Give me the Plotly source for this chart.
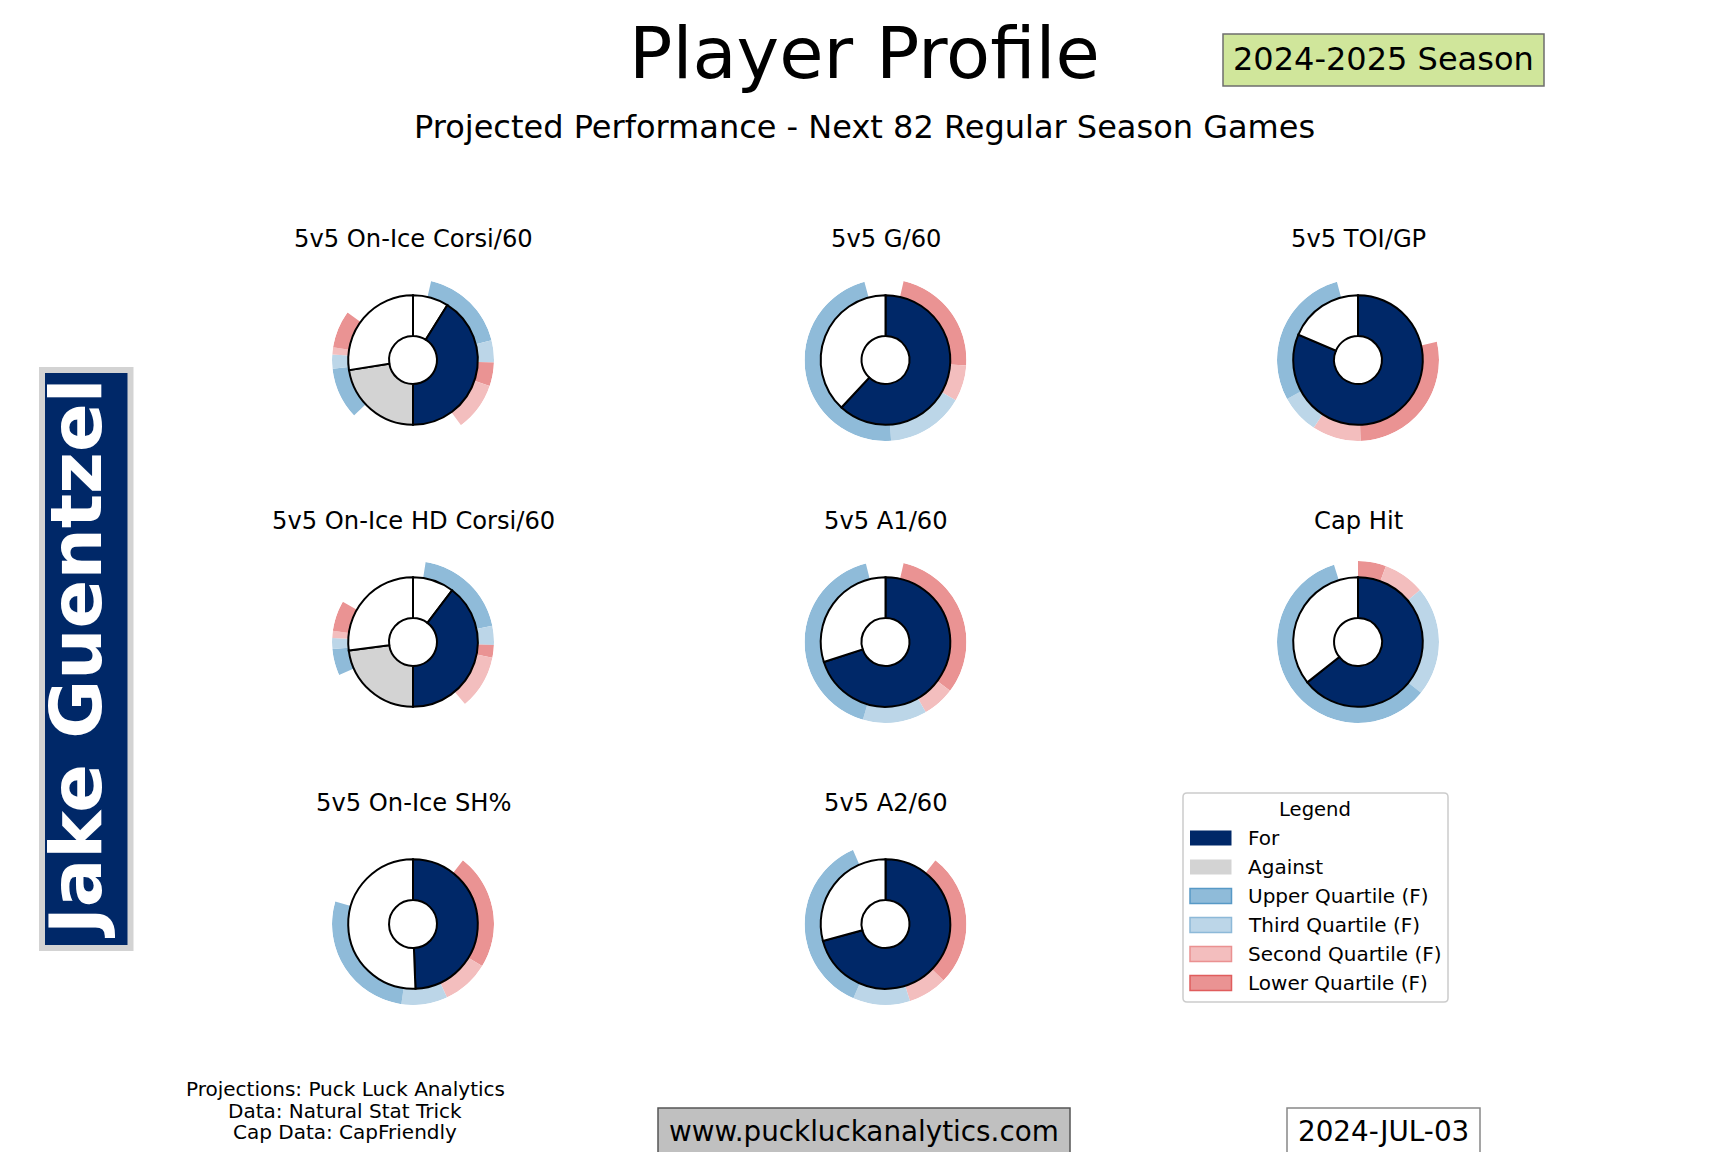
import plotly.graph_objects as go

W, H = 1728, 1152
FONT = "DejaVu Sans"

NAVY = "#002868"
colors = {
    "For": NAVY,
    "Against": "#d3d3d3",
    "Blank": "white",
    "Upper": "#8fbbd9",
    "Third": "#bcd6e8",
    "Second": "#f3bebe",
    "Lower": "#ea9393",
}

# ---- data (shares of the full circle, in %) ----
# charts with For/Against halves
split_inner_keys = ["Blank", "For", "Against", "Blank"]
split_outer_keys = ["Gap", "Upper", "Third", "Lower", "Second", "Gap",
                    "Upper", "Third", "Second", "Lower", "Gap"]
# single value charts
single_inner_keys = ["For", "Blank"]
single_outer_keys = ["Gap", "Lower", "Second", "Third", "Upper", "Gap"]

corsi_inner = [8.9, 41.1, 22.5, 27.5]
corsi_outer = [3.6, 17.5, 4.4, 4.7, 9.7, 23.1, 10.3, 2.8, 1.4, 7.5, 15.0]

hd_corsi_inner = [10.3, 39.7, 22.9, 27.1]
hd_corsi_outer = [2.5, 19.3, 3.8, 2.5, 10.8, 29.4, 5.3, 2.2, 1.4, 6.1, 16.7]

g60_inner = [61.9, 38.1]
g60_outer = [3.6, 22.5, 7.2, 15.6, 46.9, 4.2]

toi_inner = [81.4, 18.6]
toi_outer = [21.4, 28.1, 9.7, 7.8, 28.8, 4.2]

a1_inner = [70.0, 30.0]
a1_outer = [3.6, 31.7, 6.4, 12.8, 41.6, 3.9]

cap_inner = [64.3, 35.7]
cap_outer = [0.0, 5.6, 8.3, 21.9, 59.4, 4.8]

sh_inner = [49.4, 50.6]
sh_outer = [10.6, 23.1, 9.4, 9.2, 27.2, 20.5]

a2_inner = [70.8, 29.2]
a2_outer = [10.6, 26.7, 7.8, 11.4, 36.9, 6.6]

charts = [
    ("5v5 On-Ice Corsi/60", corsi_inner, split_inner_keys, corsi_outer, split_outer_keys),
    ("5v5 G/60", g60_inner, single_inner_keys, g60_outer, single_outer_keys),
    ("5v5 TOI/GP", toi_inner, single_inner_keys, toi_outer, single_outer_keys),
    ("5v5 On-Ice HD Corsi/60", hd_corsi_inner, split_inner_keys, hd_corsi_outer, split_outer_keys),
    ("5v5 A1/60", a1_inner, single_inner_keys, a1_outer, single_outer_keys),
    ("Cap Hit", cap_inner, single_inner_keys, cap_outer, single_outer_keys),
    ("5v5 On-Ice SH%", sh_inner, single_inner_keys, sh_outer, single_outer_keys),
    ("5v5 A2/60", a2_inner, single_inner_keys, a2_outer, single_outer_keys),
]

legend_labels = ["For", "Against", "Upper Quartile (F)", "Third Quartile (F)",
                 "Second Quartile (F)", "Lower Quartile (F)"]
legend_keys = ["For", "Against", "Upper", "Third", "Second", "Lower"]
legend_edges = [None, None, "#5799c6", "#8db9d8", "#ea9191", "#e05d5d"]

player = "Jake Guentzel"
season = "2024-2025 Season"
date_txt = "2024-JUL-03"
credits = ["Projections: Puck Luck Analytics", "Data: Natural Stat Trick", "Cap Data: CapFriendly"]

# ---- layout helpers (pixel -> paper) ----
def px(x):
    return x / W


def py(y):
    return 1 - y / H


col_x = [413, 885.5, 1358]
row_y = [360, 642, 924]
R_PX = 81  # outer ring radius in pixels


def ring(values, keys, base, thick, line_w, sub):
    theta, width, cols = [], [], []
    start = 0.0
    for v, k in zip(values, keys):
        span = v * 3.6
        if k != "Gap" and span > 0:
            theta.append(start + span / 2)
            width.append(span)
            cols.append(colors[k])
        start += span
    return go.Barpolar(
        r=[thick] * len(theta), base=[base] * len(theta),
        theta=theta, width=width, subplot=sub,
        marker=dict(color=cols, line=dict(color="black", width=line_w)),
        hoverinfo="skip", showlegend=False,
    )


fig = go.Figure()
annotations = []
shapes = []
polar_layout = {}

for i, (title, inner, ikeys, outer, okeys) in enumerate(charts):
    cx, cy = col_x[i % 3], row_y[i // 3]
    sub = "polar" if i == 0 else f"polar{i + 1}"
    fig.add_trace(ring(outer, okeys, 1.0, 0.25, 0, sub))
    fig.add_trace(ring(inner, ikeys, 0.37, 0.63, 2, sub))
    polar_layout[sub] = dict(
        domain=dict(x=[px(cx - R_PX), px(cx + R_PX)], y=[py(cy + R_PX), py(cy - R_PX)]),
        bgcolor="rgba(0,0,0,0)",
        radialaxis=dict(visible=False, range=[0, 1.25]),
        angularaxis=dict(visible=False, rotation=90, direction="clockwise"),
        bargap=0,
    )
    annotations.append(dict(x=px(cx), y=py(cy - 121), text=title, showarrow=False,
                            xanchor="center", yanchor="middle",
                            font=dict(size=24.2, color="black")))

# header
annotations.append(dict(x=px(864.5), y=py(53.5), text="Player Profile", showarrow=False,
                        xanchor="center", yanchor="middle", font=dict(size=72, color="black")))
annotations.append(dict(x=px(864.5), y=py(127), text="Projected Performance - Next 82 Regular Season Games",
                        showarrow=False, xanchor="center", yanchor="middle",
                        font=dict(size=32, color="black")))
shapes.append(dict(type="rect", xref="paper", yref="paper", x0=px(1223), x1=px(1544),
                   y0=py(86), y1=py(34), fillcolor="#d0e69b", line=dict(color="#6e6e6e", width=1.5),
                   layer="below"))
annotations.append(dict(x=px(1383.5), y=py(59), text=season, showarrow=False,
                        xanchor="center", yanchor="middle", font=dict(size=32, color="black")))

# player name box
shapes.append(dict(type="rect", xref="paper", yref="paper", x0=px(42), x1=px(130.5),
                   y0=py(948), y1=py(370), fillcolor=NAVY, line=dict(color="#d3d3d3", width=6),
                   layer="below"))
annotations.append(dict(x=px(76), y=py(659), text=f"<b>{player}</b>", showarrow=False,
                        textangle=-90, xanchor="center", yanchor="middle",
                        font=dict(size=72, color="white")))

# legend (drawn by hand)
lx0, lx1, ly0, ly1, rad = 1183, 1448, 793, 1002, 4


def rounded(x0, y0, x1, y1, r):
    rx, ry = r / W, r / H
    a0, a1, b0, b1 = px(x0), px(x1), py(y1), py(y0)
    return (f"M {a0 + rx},{b0} L {a1 - rx},{b0} Q {a1},{b0} {a1},{b0 + ry} "
            f"L {a1},{b1 - ry} Q {a1},{b1} {a1 - rx},{b1} L {a0 + rx},{b1} "
            f"Q {a0},{b1} {a0},{b1 - ry} L {a0},{b0 + ry} Q {a0},{b0} {a0 + rx},{b0} Z")


shapes.append(dict(type="path", xref="paper", yref="paper", path=rounded(lx0, ly0, lx1, ly1, rad),
                   fillcolor="white", line=dict(color="#cccccc", width=1.5), layer="below"))
annotations.append(dict(x=px(1315), y=py(809), text="Legend", showarrow=False,
                        xanchor="center", yanchor="middle", font=dict(size=19.6, color="black")))
for j, (lab, key, edge) in enumerate(zip(legend_labels, legend_keys, legend_edges)):
    yc = 838 + j * 29
    shapes.append(dict(type="rect", xref="paper", yref="paper", x0=px(1190), x1=px(1231.5),
                       y0=py(yc + 7.5), y1=py(yc - 7.5), fillcolor=colors[key],
                       line=dict(color=edge or colors[key], width=1.5 if edge else 0)))
    annotations.append(dict(x=px(1246), y=py(yc), text=lab, showarrow=False,
                            xanchor="left", yanchor="middle", font=dict(size=20, color="black")))

# footer
for k, (line, yc) in enumerate(zip(credits, [1089, 1111, 1132])):
    annotations.append(dict(x=px(345), y=py(yc), text=line, showarrow=False,
                            xanchor="center", yanchor="middle", font=dict(size=20, color="black")))
shapes.append(dict(type="rect", xref="paper", yref="paper", x0=px(658), x1=px(1070),
                   y0=py(1165), y1=py(1108), fillcolor="#c0c0c0", line=dict(color="#555555", width=1.5),
                   layer="below"))
annotations.append(dict(x=px(864), y=py(1131), text="www.puckluckanalytics.com", showarrow=False,
                        xanchor="center", yanchor="middle", font=dict(size=27.8, color="black")))
shapes.append(dict(type="rect", xref="paper", yref="paper", x0=px(1287), x1=px(1480),
                   y0=py(1165), y1=py(1108), fillcolor="white", line=dict(color="#888888", width=1.5),
                   layer="below"))
annotations.append(dict(x=px(1383.5), y=py(1131), text=date_txt, showarrow=False,
                        xanchor="center", yanchor="middle", font=dict(size=27.8, color="black")))

fig.update_layout(
    width=W, height=H,
    margin=dict(l=0, r=0, t=0, b=0),
    paper_bgcolor="white", plot_bgcolor="white",
    font=dict(family=FONT, color="black"),
    showlegend=False,
    annotations=annotations,
    shapes=shapes,
    **polar_layout,
)

fig.write_html("out.html", config={"displayModeBar": False},
               post_script="document.body.style.margin='0';")
